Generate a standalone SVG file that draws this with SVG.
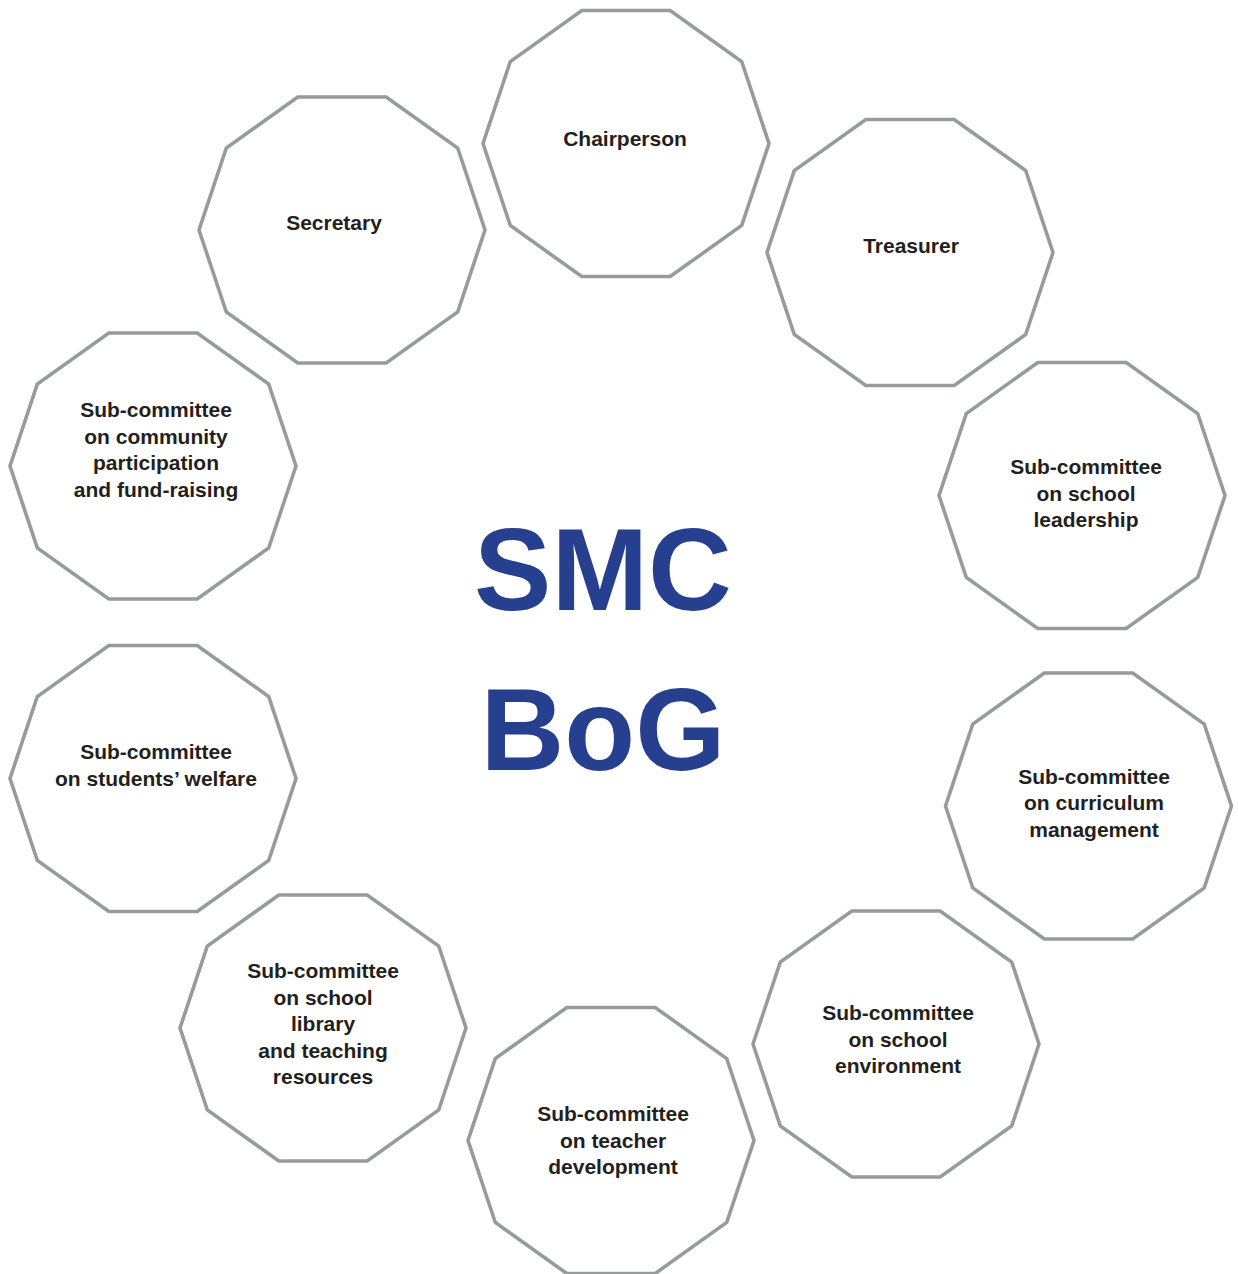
<svg xmlns="http://www.w3.org/2000/svg" xmlns:xlink="http://www.w3.org/1999/xlink" width="1238" height="1274" viewBox="0 0 1238 1274">
<style>
.dec{fill:#ffffff;stroke:#999a9d;stroke-width:3.6;stroke-linejoin:miter}
.lbl{font-family:"Liberation Sans",Arial,Helvetica,sans-serif;font-weight:bold;font-size:21px;fill:#231f20;text-anchor:middle}
.big{font-family:"Liberation Sans",Arial,Helvetica,sans-serif;font-weight:bold;font-size:116px;fill:#26408f;text-anchor:middle}
</style>
<defs>
<polygon id="deca" class="dec" points="143,0 115.7,82 44.2,133 -44.2,133 -115.7,82 -143,0 -115.7,-82 -44.2,-133 44.2,-133 115.7,-82"/>
</defs>
<rect x="0" y="0" width="1238" height="1274" fill="#ffffff"/>
<g id="connectors"></g>
<g id="chairperson">
<use xlink:href="#deca" href="#deca" x="626" y="143.5"/>
<text class="lbl" x="625" y="146">Chairperson</text>
</g>
<g id="treasurer">
<use xlink:href="#deca" href="#deca" x="910" y="252.5"/>
<text class="lbl" x="911" y="252.5">Treasurer</text>
</g>
<g id="secretary">
<use xlink:href="#deca" href="#deca" x="342" y="230"/>
<text class="lbl" x="334" y="229.5">Secretary</text>
</g>
<g id="sub-leadership">
<use xlink:href="#deca" href="#deca" x="1082" y="495.5"/>
<text class="lbl" x="1086" y="474">Sub-committee</text>
<text class="lbl" x="1086" y="500.5">on school</text>
<text class="lbl" x="1086" y="527">leadership</text>
</g>
<g id="sub-community">
<use xlink:href="#deca" href="#deca" x="153" y="466"/>
<text class="lbl" x="156" y="417">Sub-committee</text>
<text class="lbl" x="156" y="443.5">on community</text>
<text class="lbl" x="156" y="470">participation</text>
<text class="lbl" x="156" y="496.5">and fund-raising</text>
</g>
<g id="sub-curriculum">
<use xlink:href="#deca" href="#deca" x="1088.5" y="806"/>
<text class="lbl" x="1094" y="783.5">Sub-committee</text>
<text class="lbl" x="1094" y="810">on curriculum</text>
<text class="lbl" x="1094" y="836.5">management</text>
</g>
<g id="sub-welfare">
<use xlink:href="#deca" href="#deca" x="153" y="778.5"/>
<text class="lbl" x="156" y="759">Sub-committee</text>
<text class="lbl" x="156" y="785.5">on students’ welfare</text>
</g>
<g id="sub-library">
<use xlink:href="#deca" href="#deca" x="323" y="1028"/>
<text class="lbl" x="323" y="978">Sub-committee</text>
<text class="lbl" x="323" y="1004.5">on school</text>
<text class="lbl" x="323" y="1031">library</text>
<text class="lbl" x="323" y="1057.5">and teaching</text>
<text class="lbl" x="323" y="1084">resources</text>
</g>
<g id="sub-teacher">
<use xlink:href="#deca" href="#deca" x="611" y="1140.5"/>
<text class="lbl" x="613" y="1121">Sub-committee</text>
<text class="lbl" x="613" y="1147.5">on teacher</text>
<text class="lbl" x="613" y="1174">development</text>
</g>
<g id="sub-environment">
<use xlink:href="#deca" href="#deca" x="896" y="1044"/>
<text class="lbl" x="898" y="1020">Sub-committee</text>
<text class="lbl" x="898" y="1046.5">on school</text>
<text class="lbl" x="898" y="1073">environment</text>
</g>
<g id="center-title">
<text class="big" x="603" y="610">SMC</text>
<text class="big" x="603" y="770">BoG</text>
</g>
</svg>
